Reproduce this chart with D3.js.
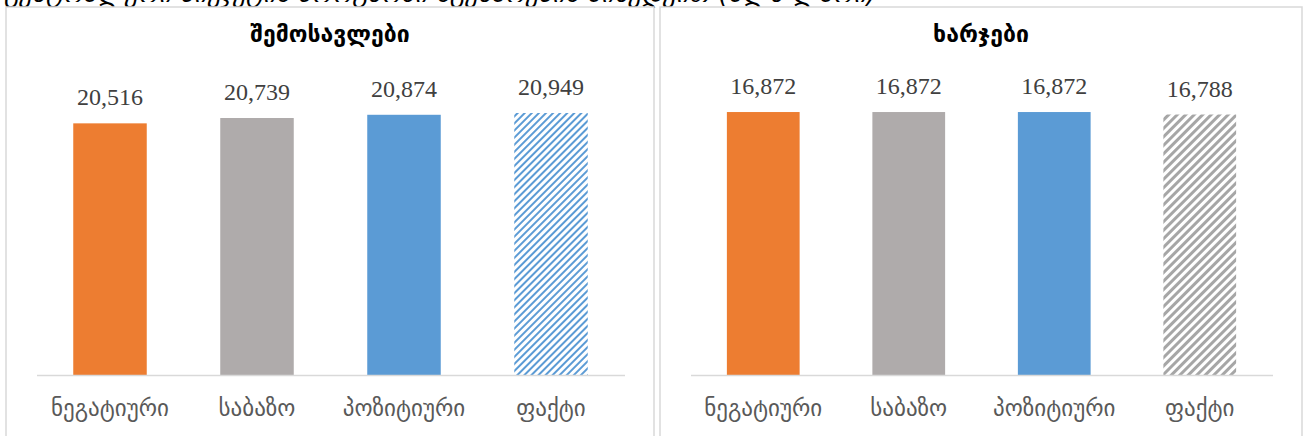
<!DOCTYPE html>
<html>
<head>
<meta charset="utf-8">
<script src="https://cdn.jsdelivr.net/npm/d3@7"></script>
<style>
  body { margin: 0; background: #fff; }
</style>
</head>
<body>
<div id="chart"></div>
<script>
// data
const categories = ['ნეგატიური', 'საბაზო', 'პოზიტიური', 'ფაქტი']
const incomeValues = [20516, 20739, 20874, 20949]
const expenseValues = [16872, 16872, 16872, 16788]
const panelTitles = ['შემოსავლები', 'ხარჯები']
const pageTitle = 'ცენტრალური ბიუჯეტის პროგნოზი სცენარების მიხედვით (მლნ ლარი)'

const W = 1305, H = 436
const colors = ['#ed7d31', '#afabab', '#5b9bd5']

let svg = d3.select('#chart').append('svg')
  .attr('width', W)
  .attr('height', H)
  .style('background', '#fff')

let defs = svg.append('defs')

// hatch patterns for the "fact" bars
defs.append('pattern')
  .attr('id', 'hatch-blue')
  .attr('patternUnits', 'userSpaceOnUse')
  .attr('width', 5).attr('height', 5)
  .attr('patternTransform', 'rotate(45)')
  .append('rect')
    .attr('width', 2).attr('height', 5)
    .attr('fill', '#5b9bd5')

defs.append('pattern')
  .attr('id', 'hatch-gray')
  .attr('patternUnits', 'userSpaceOnUse')
  .attr('width', 6).attr('height', 6)
  .attr('patternTransform', 'rotate(45)')
  .append('rect')
    .attr('width', 3).attr('height', 6)
    .attr('fill', '#a6a6a6')

// heading above the charts, cut off by the top edge as in the source
svg.append('text')
  .attr('x', 4)
  .attr('y', 2)
  .attr('font-family', 'DejaVu Sans')
  .attr('font-style', 'italic')
  .attr('font-size', 26)
  .attr('fill', '#000')
  .text(pageTitle)

function drawPanel(x0, x1, title, values, domain, pxPerUnit, hatch) {
  let g = svg.append('g')

  g.append('rect')
    .attr('x', x0).attr('y', 7)
    .attr('width', x1 - x0).attr('height', H)
    .attr('fill', '#fff')
    .attr('stroke', '#d9d9d9')
    .attr('stroke-width', 1.5)

  let scaleX = d3.scaleBand()
    .domain(categories)
    .range([x0 + 30.5, x1 - 29.5])
    .paddingInner(0.5)
    .paddingOuter(0.25)

  let scaleY = d3.scaleLinear()
    .domain(domain)
    .range([375, 375 - (domain[1] - domain[0]) * pxPerUnit])

  g.append('text')
    .attr('x', (x0 + x1) / 2)
    .attr('y', 42)
    .attr('text-anchor', 'middle')
    .attr('font-family', 'DejaVu Sans')
    .attr('font-weight', 'bold')
    .attr('font-size', 23)
    .attr('fill', '#000')
    .text(title)

  g.selectAll('.bar').data(values)
    .enter().append('rect')
      .attr('class', 'bar')
      .attr('x', (d, i) => scaleX(categories[i]))
      .attr('y', d => scaleY(d))
      .attr('width', scaleX.bandwidth())
      .attr('height', d => scaleY(domain[0]) - scaleY(d))
      .attr('fill', (d, i) => i < 3 ? colors[i] : `url(#${hatch})`)

  g.selectAll('.val').data(values)
    .enter().append('text')
      .attr('class', 'val')
      .attr('x', (d, i) => scaleX(categories[i]) + scaleX.bandwidth() / 2)
      .attr('y', d => scaleY(d) - 18)
      .attr('text-anchor', 'middle')
      .attr('font-family', 'Liberation Serif')
      .attr('font-size', 24)
      .attr('fill', '#404040')
      .text(d => d3.format(',')(d))

  let axis = g.append('g')
    .attr('transform', 'translate(0, 375)')
    .call(d3.axisBottom(scaleX).tickSize(0).tickPadding(25))
  axis.select('.domain')
    .attr('stroke', '#d9d9d9')
    .attr('stroke-width', 1.5)
  axis.selectAll('.tick text')
    .attr('font-family', 'DejaVu Sans')
    .attr('font-size', 23)
    .attr('fill', '#595959')
}

drawPanel(6, 654, panelTitles[0], incomeValues, [10000, 22000], 0.02393, 'hatch-blue')
drawPanel(660, 1302, panelTitles[1], expenseValues, [8000, 18000], 0.02964, 'hatch-gray')
</script>
</body>
</html>
